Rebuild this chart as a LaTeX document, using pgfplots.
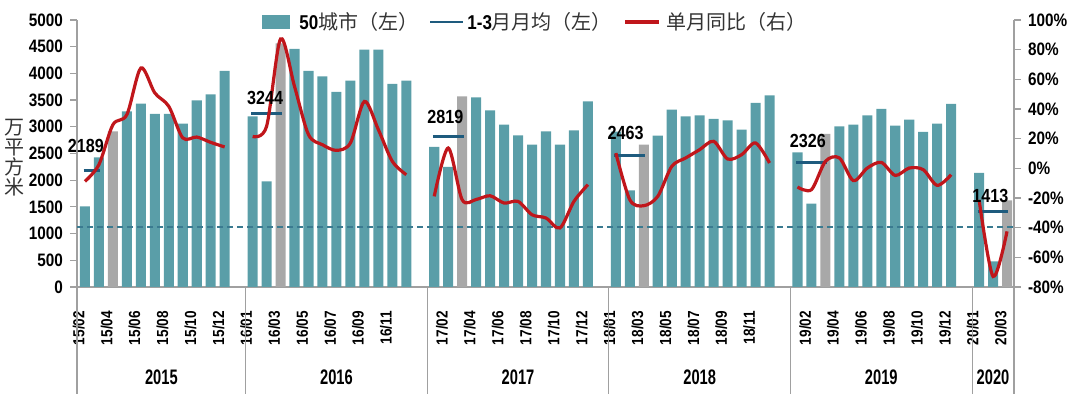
\documentclass[border=0pt]{standalone}
\usepackage{pgfplots}
\pgfplotsset{compat=1.18}
\usepackage{fontspec}
\setmainfont{Liberation Sans}
\newfontfamily\numfontx[FakeStretch=0.85]{Liberation Sans}
\newfontfamily\yearfontx[FakeStretch=0.7]{Liberation Sans}
\newfontfamily\cjk{Noto Sans CJK SC}
\newcommand\nf{\numfontx\bfseries}
\definecolor{barteal}{HTML}{5A9EA8}
\definecolor{bargrey}{HTML}{A8A8A8}
\definecolor{avgblue}{HTML}{1E5B7E}
\definecolor{redline}{HTML}{C0161B}
\definecolor{axisgrey}{HTML}{A0A0A0}
\definecolor{dashc}{HTML}{3A7A90}
\definecolor{cjkgrey}{HTML}{333333}

\pgfplotstableread{
x y
0 1510
1 2428
3 3290
4 3433
5 3240
6 3240
7 3059
8 3495
9 3608
10 4046
12 3196
13 1978
15 4458
16 4046
17 3945
18 3652
19 3864
20 4445
21 4445
22 3802
23 3864
25 2622
26 2248
28 3551
29 3308
30 3040
31 2840
32 2665
33 2915
34 2665
35 2933
36 3477
38 2910
39 1810
41 2834
42 3321
43 3196
44 3215
45 3147
46 3121
47 2946
48 3446
49 3589
51 2522
52 1560
54 3008
55 3040
56 3215
57 3334
58 3021
59 3134
60 2903
61 3059
62 3428
64 2135
65 480
}\tealbars

\pgfplotstableread{
x y
2 2915
14 4560
27 3570
40 2665
53 2866
66 1622
}\greybars

\begin{document}
\begin{tikzpicture}
\begin{axis}[
  at={(0pt,0pt)}, anchor=south west,
  scale only axis, width=468.5pt, height=133.5pt,
  xmin=-0.57, xmax=66.5, ymin=0, ymax=5000,
  axis x line*=bottom, axis y line*=left,
  axis line style={draw=axisgrey, line width=0.6pt},
  tick align=outside, major tick length=3.5pt,
  ytick={0,500,1000,1500,2000,2500,3000,3500,4000,4500,5000},
  yticklabels={0,500,1000,1500,2000,2500,3000,3500,4000,4500,5000},
  yticklabel style={font=\nf\fontsize{9}{9}\selectfont, text=black},
  y tick style={draw=axisgrey, line width=0.6pt},
  xtick={-0.45,1.55,3.55,5.55,7.55,9.55,
         11.55,13.55,15.55,17.55,19.55,21.55,
         25.55,27.55,29.55,31.55,33.55,35.55,
         37.55,39.55,41.55,43.55,45.55,47.55,
         51.55,53.55,55.55,57.55,59.55,61.55,
         63.55,65.55},
  xticklabels={15/02,15/04,15/06,15/08,15/10,15/12,
               16/01,16/03,16/05,16/07,16/09,16/11,
               17/02,17/04,17/06,17/08,17/10,17/12,
               18/01,18/03,18/05,18/07,18/09,18/11,
               19/02,19/04,19/06,19/08,19/10,19/12,
               20/01,20/03},
  x tick style={draw=none},
  xticklabel shift=5pt,
  xticklabel style={rotate=90, anchor=east, font=\nf\fontsize{8}{8}\selectfont, text=black},
  clip=false,
]
\addplot[ybar, bar width=0.72, bar shift=0pt, fill=barteal, draw=none] table[x=x,y=y] {\tealbars};
\addplot[ybar, bar width=0.72, bar shift=0pt, fill=bargrey, draw=none] table[x=x,y=y] {\greybars};
% dashed reference line
\addplot[dashc, line width=0.6pt, dash pattern=on 3pt off 2pt] coordinates {(-0.57,1125) (66.5,1125)};
% 1-3 month averages
\addplot[avgblue, line width=1.4pt] coordinates {(-0.1,2189) (1.1,2189)};
\addplot[avgblue, line width=1.4pt] coordinates {(11.9,3244) (14.1,3244)};
\addplot[avgblue, line width=1.4pt] coordinates {(24.9,2819) (27.1,2819)};
\addplot[avgblue, line width=1.4pt] coordinates {(37.9,2463) (40.1,2463)};
\addplot[avgblue, line width=1.4pt] coordinates {(50.9,2326) (53.1,2326)};
\addplot[avgblue, line width=1.4pt] coordinates {(63.9,1413) (66.1,1413)};
% year separators
\foreach \xs in {-0.57,11.5,24.5,37.5,50.5,63.5,66.5}{
  \edef\tmp{\noexpand\draw[axisgrey, line width=0.6pt] (axis cs:\xs,0) -- ([yshift=-53.5pt]axis cs:\xs,0);}\tmp
}
\foreach \xc/\yr in {5.47/2015,18/2016,31/2017,44/2018,57/2019,65/2020}{
  \edef\tmp{\noexpand\node[font=\noexpand\yearfontx\noexpand\bfseries\noexpand\fontsize{10.5}{10.5}\noexpand\selectfont] at ([yshift=-45pt]axis cs:\xc,0) {\yr};}\tmp
}
\end{axis}

\begin{axis}[
  at={(0pt,0pt)}, anchor=south west,
  scale only axis, width=468.5pt, height=133.5pt,
  xmin=-0.57, xmax=66.5, ymin=-80, ymax=100,
  axis x line=none, axis y line*=right,
  axis line style={draw=axisgrey, line width=0.6pt},
  tick align=outside, major tick length=3.5pt,
  ytick={-80,-60,-40,-20,0,20,40,60,80,100},
  yticklabels={-80\%,-60\%,-40\%,-20\%,0\%,20\%,40\%,60\%,80\%,100\%},
  yticklabel style={font=\nf\fontsize{9}{9}\selectfont, text=black},
  y tick style={draw=axisgrey, line width=0.6pt},
  clip=false,
]
\addplot[redline, line width=1.6pt, smooth] coordinates {
(0,-8.8)(1,2.5)(2,29.4)(3,36.2)(4,67.6)(5,50.8)(6,41.8)(7,20.5)(8,21.1)(9,17.5)(10,14.4)};
\addplot[redline, line width=1.6pt, smooth] coordinates {
(12,21.5)(13,28.3)(14,87.2)(15,55.2)(16,22.7)(17,15.9)(18,12.1)(19,17.1)(20,45.1)(21,26.1)(22,4.7)(23,-4.3)};
\addplot[redline, line width=1.6pt, smooth] coordinates {
(25,-18.9)(26,13.7)(27,-21.2)(28,-21)(29,-18.5)(30,-23.4)(31,-22.3)(32,-31.3)(33,-33.5)(34,-40.2)(35,-22.3)(36,-11)};
\addplot[redline, line width=1.6pt, smooth] coordinates {
(38,10.3)(39,-21.2)(40,-25.2)(41,-18.9)(42,1.3)(43,7)(44,12.6)(45,18.2)(46,6.3)(47,9.2)(48,17.1)(49,3.6)};
\addplot[redline, line width=1.6pt, smooth] coordinates {
(51,-12.6)(52,-14.4)(53,4.7)(54,7)(55,-8.3)(56,0.2)(57,4)(58,-4.8)(59,0.2)(60,-0.9)(61,-11.5)(62,-4.3)};
\addplot[redline, line width=1.6pt, smooth] coordinates {
(64,-21.2)(65,-72.9)(66,-42.5)};
% value labels of the 1-3 month averages
\foreach \xc/\yc/\lab in {0.07/15.3/2189,12.9/47.7/3244,25.8/34.8/2819,38.7/24.0/2463,51.75/18.6/2326,64.8/-18.4/1413}{
  \edef\tmp{\noexpand\node[font=\noexpand\nf\noexpand\fontsize{9.5}{9.5}\noexpand\selectfont, inner sep=0pt] at (axis cs:\xc,\yc) {\lab};}\tmp
}
\end{axis}

% legend
\fill[barteal] (92.5pt,129pt) rectangle (106.5pt,136pt);
\node[anchor=west, inner sep=0pt] at (111pt,132.5pt) {{\nf\fontsize{10}{10}\selectfont 50}{\cjk\fontsize{10}{10}\selectfont\color{cjkgrey}城市（左）}};
\draw[avgblue, line width=1.4pt] (176.5pt,132.5pt) -- (193pt,132.5pt);
\node[anchor=west, inner sep=0pt] at (195pt,132.5pt) {{\nf\fontsize{10}{10}\selectfont 1-3}{\cjk\fontsize{10}{10}\selectfont\color{cjkgrey}月月均（左）}};
\draw[redline, line width=1.6pt] (274pt,132.5pt) -- (291pt,132.5pt);
\node[anchor=west, inner sep=0pt] at (294.5pt,132.5pt) {\cjk\fontsize{10}{10}\selectfont\color{cjkgrey}单月同比（右）};
% y axis title
\node[align=center, inner sep=0pt, font=\cjk\fontsize{10}{10}\selectfont, text=cjkgrey] at (-31pt,64.5pt) {万\\平\\方\\米};

\pgfresetboundingbox
\path[use as bounding box] (-38.5pt,-53.5pt) rectangle (501.5pt,143.5pt);
\end{tikzpicture}
\end{document}
